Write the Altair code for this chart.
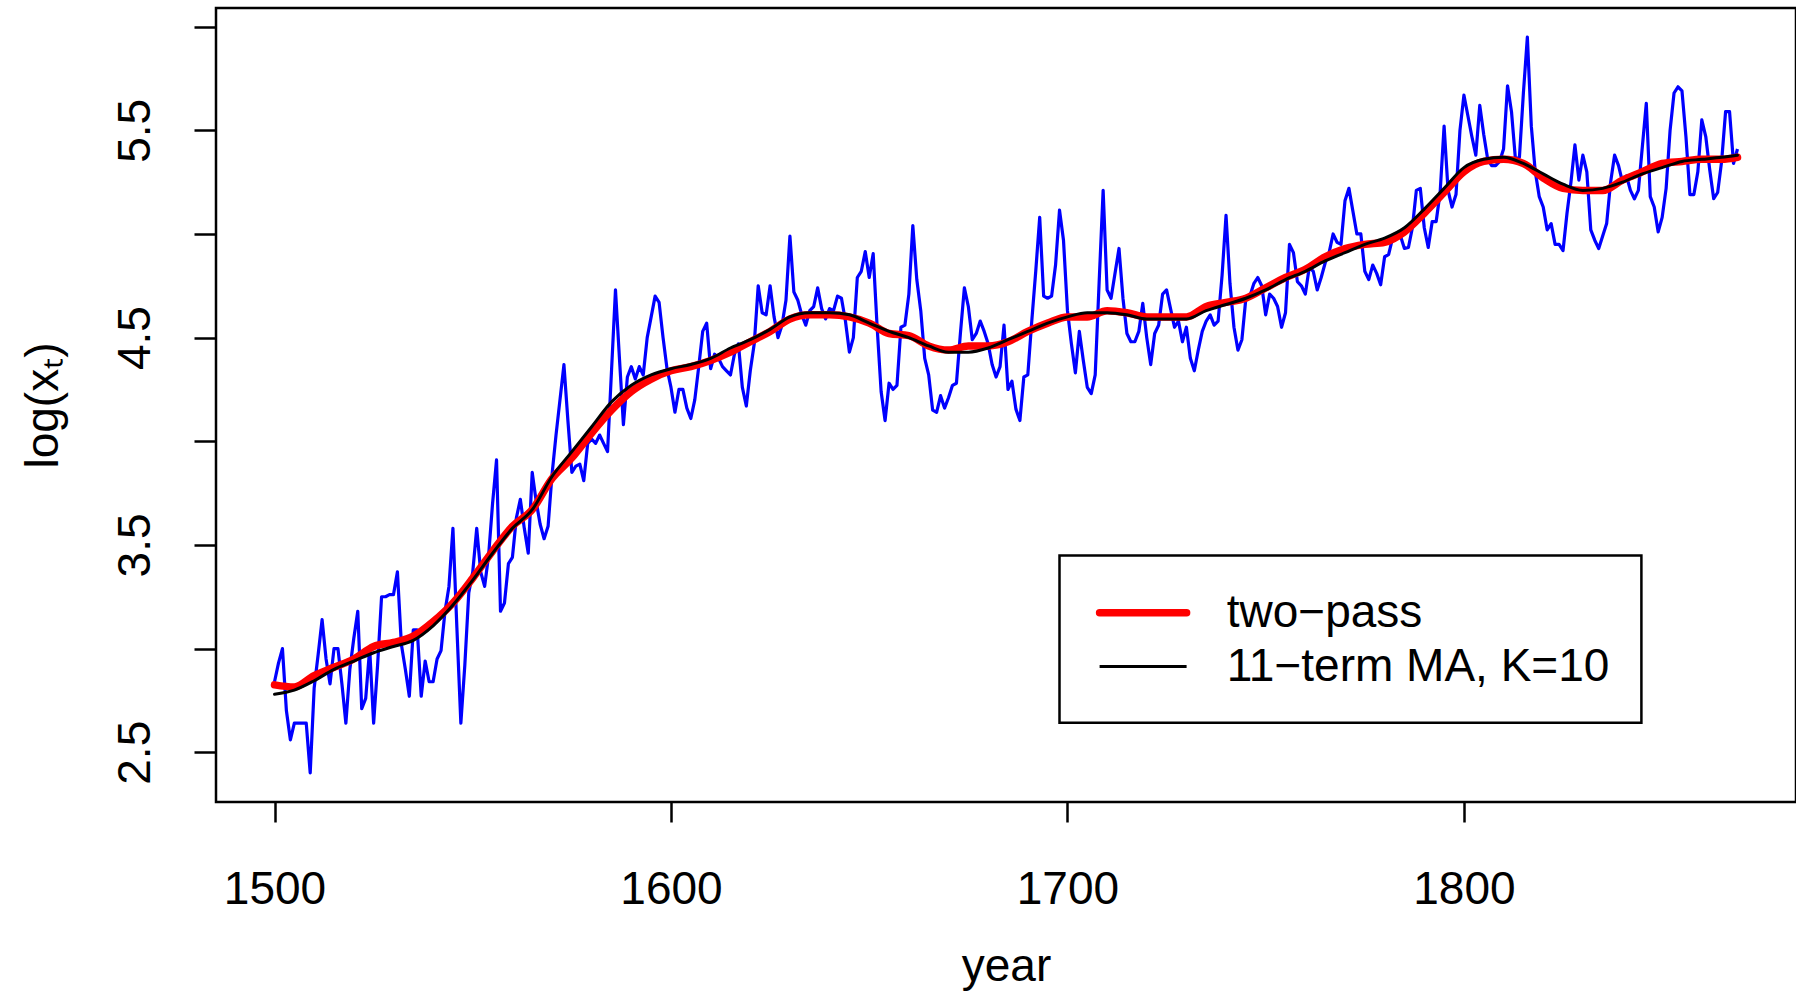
import altair as alt
import pandas as pd

FONT = "Liberation Sans"

YEARS = list(range(1500, 1870))
LOG_PRICE = [
    2.84, 2.93, 3.00, 2.70, 2.56, 2.64, 2.64, 2.64, 2.64, 2.40,   # 1500-1509
    2.81, 2.97, 3.14, 2.95, 2.83, 3.00, 3.00, 2.83, 2.64, 2.90,   # 1510-1519
    3.05, 3.18, 2.71, 2.76, 3.00, 2.64, 2.92, 3.25, 3.25, 3.26,   # 1520-1529
    3.26, 3.37, 3.02, 2.90, 2.77, 3.09, 3.09, 2.77, 2.94, 2.84,   # 1530-1539
    2.84, 2.95, 2.99, 3.18, 3.30, 3.58, 3.10, 2.64, 2.92, 3.27,   # 1540-1549
    3.37, 3.58, 3.37, 3.30, 3.45, 3.70, 3.91, 3.18, 3.22, 3.41,   # 1550-1559
    3.44, 3.63, 3.72, 3.58, 3.46, 3.85, 3.71, 3.60, 3.53, 3.59,   # 1560-1569
    3.84, 4.03, 4.20, 4.37, 4.10, 3.85, 3.88, 3.89, 3.81, 3.99,   # 1570-1579
    4.01, 3.99, 4.03, 3.99, 3.95, 4.34, 4.73, 4.40, 4.08, 4.31,   # 1580-1589
    4.36, 4.30, 4.36, 4.32, 4.50, 4.60, 4.70, 4.67, 4.50, 4.35,   # 1590-1599
    4.26, 4.14, 4.25, 4.25, 4.16, 4.11, 4.20, 4.36, 4.53, 4.57,   # 1600-1609
    4.35, 4.42, 4.40, 4.36, 4.34, 4.32, 4.42, 4.47, 4.26, 4.17,   # 1610-1619
    4.34, 4.47, 4.75, 4.62, 4.61, 4.75, 4.60, 4.50, 4.56, 4.68,   # 1620-1629
    4.99, 4.72, 4.68, 4.61, 4.56, 4.63, 4.65, 4.74, 4.64, 4.59,   # 1630-1639
    4.64, 4.63, 4.70, 4.69, 4.58, 4.43, 4.50, 4.79, 4.82, 4.915,  # 1640-1649
    4.79, 4.905, 4.55, 4.24, 4.10, 4.28, 4.25, 4.27, 4.55, 4.56,  # 1650-1659
    4.71, 5.04, 4.78, 4.63, 4.40, 4.32, 4.15, 4.14, 4.22, 4.16,   # 1660-1669
    4.21, 4.27, 4.28, 4.52, 4.74, 4.65, 4.49, 4.52, 4.58, 4.53,   # 1670-1679
    4.47, 4.37, 4.31, 4.36, 4.56, 4.25, 4.29, 4.155, 4.10, 4.31,  # 1680-1689
    4.32, 4.58, 4.82, 5.08, 4.70, 4.69, 4.70, 4.85, 5.115, 4.97,  # 1690-1699
    4.63, 4.47, 4.33, 4.53, 4.39, 4.26, 4.23, 4.32, 4.77, 5.21,   # 1700-1709
    4.73, 4.69, 4.81, 4.93, 4.69, 4.52, 4.48, 4.48, 4.53, 4.665,  # 1710-1719
    4.50, 4.37, 4.52, 4.56, 4.71, 4.73, 4.64, 4.55, 4.58, 4.48,   # 1720-1729
    4.55, 4.40, 4.34, 4.44, 4.53, 4.58, 4.61, 4.56, 4.58, 4.80,   # 1730-1739
    5.09, 4.76, 4.55, 4.44, 4.49, 4.69, 4.70, 4.76, 4.79, 4.75,   # 1740-1749
    4.61, 4.71, 4.69, 4.65, 4.55, 4.62, 4.95, 4.91, 4.77, 4.75,   # 1750-1759
    4.71, 4.84, 4.82, 4.73, 4.79, 4.86, 4.91, 5.00, 4.96, 4.95,   # 1760-1769
    5.16, 5.22, 5.11, 5.00, 5.00, 4.82, 4.78, 4.85, 4.81, 4.755,  # 1770-1779
    4.89, 4.90, 4.98, 4.99, 4.99, 4.93, 4.935, 5.03, 5.21, 5.22,  # 1780-1789
    5.03, 4.935, 5.06, 5.06, 5.20, 5.52, 5.21, 5.13, 5.19, 5.50,  # 1790-1799
    5.67, 5.57, 5.47, 5.38, 5.62, 5.48, 5.36, 5.33, 5.33, 5.35,   # 1800-1809
    5.41, 5.715, 5.59, 5.36, 5.37, 5.68, 5.95, 5.52, 5.30, 5.18,  # 1810-1819
    5.13, 5.02, 5.05, 4.95, 4.95, 4.92, 5.10, 5.25, 5.43, 5.26,   # 1820-1829
    5.38, 5.30, 5.02, 4.97, 4.93, 4.99, 5.05, 5.25, 5.38, 5.33,   # 1830-1839
    5.25, 5.28, 5.21, 5.17, 5.21, 5.42, 5.63, 5.18, 5.13, 5.01,   # 1840-1849
    5.08, 5.22, 5.50, 5.68, 5.71, 5.69, 5.47, 5.19, 5.19, 5.30,   # 1850-1859
    5.55, 5.47, 5.31, 5.17, 5.20, 5.35, 5.59, 5.59, 5.34, 5.41,   # 1860-1869
]

SMOOTH_YEARS = [
    1500, 1505, 1510, 1515, 1520, 1525, 1530, 1535, 1540, 1545,
    1550, 1555, 1560, 1565, 1570, 1575, 1580, 1585, 1590, 1595,
    1600, 1605, 1610, 1615, 1620, 1625, 1630, 1635, 1640, 1645,
    1650, 1655, 1660, 1665, 1670, 1675, 1680, 1685, 1690, 1695,
    1700, 1705, 1710, 1715, 1720, 1725, 1730, 1735, 1740, 1745,
    1750, 1755, 1760, 1765, 1770, 1775, 1780, 1785, 1790, 1795,
    1800, 1805, 1810, 1815, 1820, 1825, 1830, 1835, 1840, 1845,
    1850, 1855, 1860, 1865, 1869,
]
TWO_PASS = [
    2.825, 2.815, 2.87, 2.91, 2.95, 3.01, 3.03, 3.06, 3.13, 3.22,
    3.34, 3.47, 3.59, 3.67, 3.82, 3.92, 4.04, 4.15, 4.24, 4.30,
    4.34, 4.36, 4.39, 4.43, 4.48, 4.53, 4.59, 4.61, 4.61, 4.60,
    4.57, 4.52, 4.51, 4.46, 4.44, 4.46, 4.46, 4.48, 4.53, 4.57,
    4.60, 4.60, 4.63, 4.62, 4.60, 4.60, 4.60, 4.65, 4.67, 4.69,
    4.74, 4.79, 4.83, 4.89, 4.93, 4.95, 4.96, 5.01, 5.10, 5.20,
    5.30, 5.35, 5.36, 5.34, 5.27, 5.22, 5.21, 5.21, 5.26, 5.30,
    5.34, 5.35, 5.36, 5.36, 5.37,
]
MA11 = [
    2.78, 2.80, 2.845, 2.90, 2.94, 2.98, 3.01, 3.04, 3.11, 3.21,
    3.33, 3.46, 3.58, 3.67, 3.83, 3.95, 4.07, 4.19, 4.27, 4.32,
    4.35, 4.37, 4.40, 4.45, 4.49, 4.54, 4.60, 4.62, 4.62, 4.61,
    4.57, 4.53, 4.50, 4.46, 4.43, 4.43, 4.45, 4.49, 4.53, 4.57,
    4.60, 4.62, 4.62, 4.61, 4.59, 4.59, 4.59, 4.63, 4.66, 4.69,
    4.73, 4.78, 4.82, 4.87, 4.91, 4.95, 4.98, 5.03, 5.12, 5.22,
    5.32, 5.36, 5.37, 5.34, 5.29, 5.24, 5.21, 5.22, 5.25, 5.29,
    5.32, 5.35, 5.36, 5.37, 5.38,
]

LEGEND_LABELS = ["two\u2212pass", "11\u2212term MA, K=10"]

raw = pd.DataFrame({"year": YEARS, "value": LOG_PRICE})
smooth = pd.DataFrame({"year": SMOOTH_YEARS, "two": TWO_PASS, "ma": MA11})

W, H = 1580, 794

xscale = alt.Scale(domain=[1485.24, 1883.76], nice=False, zero=False)
yscale = alt.Scale(domain=[2.26, 6.09], nice=False, zero=False)

xaxis = alt.Axis(
    values=[1500, 1600, 1700, 1800], format="d", title="year",
    labelFont=FONT, labelFontSize=46, labelColor="black",
    labelBaseline="alphabetic", labelPadding=81, labelFlush=False, labelOverlap=False,
    tickColor="black", tickSize=20, tickWidth=2.5,
    domain=False, grid=False,
    titleFont=FONT, titleFontSize=46, titleFontWeight="normal", titleColor="black",
    titleBaseline="alphabetic", titleY=178,
)
yaxis = alt.Axis(
    values=[2.5, 3.0, 3.5, 4.0, 4.5, 5.0, 5.5, 6.0],
    labelExpr="(datum.value * 2) % 2 == 1 ? format(datum.value, '.1f') : ''",
    labelFont=FONT, labelFontSize=46, labelColor="black",
    labelAngle=270, labelAlign="center", labelBaseline="alphabetic",
    labelPadding=45, labelFlush=False, labelOverlap=False,
    tickColor="black", tickSize=22, tickWidth=2.5,
    domain=False, grid=False,
    title="log(x\u209c)", titleFont=FONT, titleFontSize=46, titleFontWeight="normal",
    titleColor="black", titleAngle=270, titleAlign="center", titleBaseline="alphabetic",
    titleX=-159, titleY=H / 2,
)

blue = alt.Chart(raw).mark_line(color="#0000FF", strokeWidth=3.2, strokeJoin="round").encode(
    x=alt.X("year:Q", scale=xscale, axis=xaxis),
    y=alt.Y("value:Q", scale=yscale, axis=yaxis),
)
red = alt.Chart(smooth).mark_line(color="#FF0000", strokeWidth=7.5, strokeCap="round",
                                  interpolate="monotone").encode(
    x=alt.X("year:Q", scale=xscale), y=alt.Y("two:Q", scale=yscale))
black = alt.Chart(smooth).mark_line(color="black", strokeWidth=3.0, strokeCap="round",
                                    interpolate="monotone").encode(
    x=alt.X("year:Q", scale=xscale), y=alt.Y("ma:Q", scale=yscale))

one = alt.Data(values=[{"k": 0}])
leg_box = alt.Chart(one).mark_rect(fill="white", stroke="black", strokeWidth=2.5).encode(
    x=alt.value(843.5), x2=alt.value(1425.4), y=alt.value(547.5), y2=alt.value(714.7))
leg_red = alt.Chart(one).mark_rule(color="#FF0000", strokeWidth=7.5, strokeCap="round").encode(
    x=alt.value(883.6), x2=alt.value(970.6), y=alt.value(604.8))
leg_black = alt.Chart(one).mark_rule(color="black", strokeWidth=3.0).encode(
    x=alt.value(883.6), x2=alt.value(970.6), y=alt.value(658.6))
leg_t1 = alt.Chart(one).mark_text(align="left", baseline="middle", font=FONT, fontSize=46,
                                  color="black", text=LEGEND_LABELS[0]).encode(
    x=alt.value(1010.7), y=alt.value(604.8))
leg_t2 = alt.Chart(one).mark_text(align="left", baseline="middle", font=FONT, fontSize=46,
                                  color="black", text=LEGEND_LABELS[1]).encode(
    x=alt.value(1010.7), y=alt.value(658.6))

chart = alt.layer(blue, red, black, leg_box, leg_red, leg_black, leg_t1, leg_t2).properties(
    width=W, height=H,
    autosize=alt.AutoSizeParams(type="none"),
    padding={"left": 216, "top": 8, "right": 0, "bottom": 190},
    background="white",
).configure_view(stroke="black", strokeWidth=2.5)

chart.save("out.html", embed_options={"renderer": "svg", "actions": False})
